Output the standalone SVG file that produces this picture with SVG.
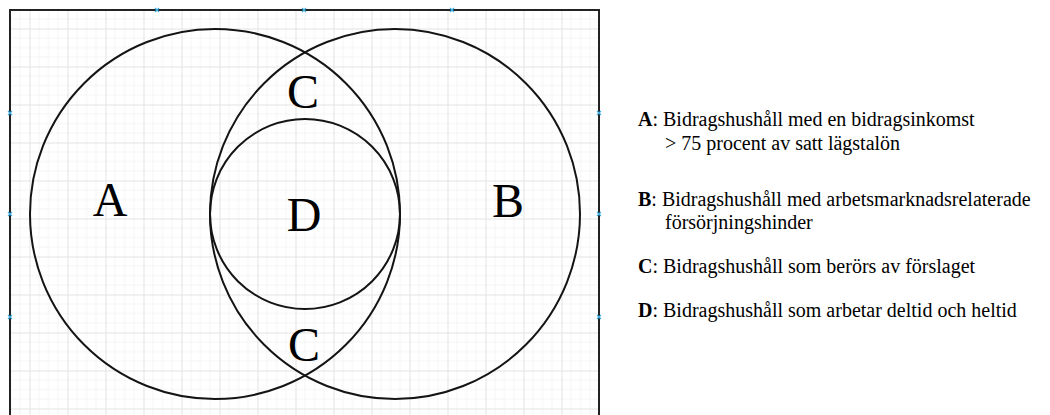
<svg xmlns="http://www.w3.org/2000/svg" width="1050" height="415" viewBox="0 0 1050 415">
  <style>
    .ring { fill: none; stroke: #141414; stroke-width: 2; }
    .big { font-family: "Liberation Serif", "Times New Roman", serif; font-size: 48px; fill: #000; text-anchor: middle; }
    .leg { font-family: "Liberation Serif", "Times New Roman", serif; font-size: 20px; fill: #000; }
    .b { font-weight: bold; }
    .mk { stroke: #3fb0e6; stroke-width: 1.2; }
  </style>
  <defs>
    <pattern id="grid" patternUnits="userSpaceOnUse" x="29.5" y="28.5" width="38" height="38">
      <path d="M9.5 0V38M19 0V38M28.5 0V38M0 9.5H38M0 19H38M0 28.5H38" stroke="#f4f4f4" stroke-width="1" fill="none"/>
      <path d="M0.5 0V38M0 0.5H38" stroke="#e3e3e3" stroke-width="1" fill="none"/>
    </pattern>
    <g id="mark">
      <path class="mk" d="M-2 -2L2 2M-2 2L2 -2"/>
    </g>
  </defs>

  <rect x="0" y="0" width="1050" height="415" fill="#fff"/>

  <g id="canvas">
    <rect x="10" y="10" width="589" height="420" fill="url(#grid)"/>
    <rect x="10" y="10" width="589" height="420" fill="none" stroke="#222" stroke-width="2"/>
    <use href="#mark" x="157" y="10"/>
    <use href="#mark" x="304" y="10"/>
    <use href="#mark" x="452" y="10"/>
    <use href="#mark" x="10" y="113"/>
    <use href="#mark" x="10" y="214"/>
    <use href="#mark" x="10" y="317"/>
    <use href="#mark" x="599" y="113"/>
    <use href="#mark" x="599" y="214"/>
    <use href="#mark" x="599" y="317"/>
  </g>

  <g id="connectors"></g>

  <g id="node-A">
    <circle class="ring" cx="215" cy="214" r="185"/>
    <text class="big" x="110" y="216">A</text>
  </g>
  <g id="node-B">
    <circle class="ring" cx="395" cy="214" r="185"/>
    <text class="big" x="508" y="217">B</text>
  </g>
  <g id="node-D">
    <circle class="ring" cx="305" cy="214" r="95"/>
    <text class="big" x="304" y="231">D</text>
  </g>
  <g id="node-C">
    <text class="big" x="303" y="108">C</text>
    <text class="big" x="304" y="361">C</text>
  </g>

  <g id="legend">
    <text class="leg" x="638" y="126"><tspan class="b">A</tspan>: Bidragshushåll med en bidragsinkomst</text>
    <text class="leg" x="665" y="150">&gt; 75 procent av satt lägstalön</text>
    <text class="leg" x="638" y="206"><tspan class="b">B</tspan>: Bidragshushåll med arbetsmarknadsrelaterade</text>
    <text class="leg" x="665" y="229">försörjningshinder</text>
    <text class="leg" x="638" y="273"><tspan class="b">C</tspan>: Bidragshushåll som berörs av förslaget</text>
    <text class="leg" x="638" y="317"><tspan class="b">D</tspan>: Bidragshushåll som arbetar deltid och heltid</text>
  </g>
</svg>
